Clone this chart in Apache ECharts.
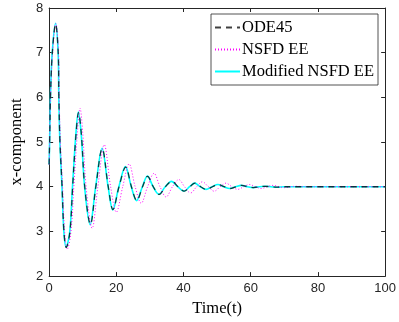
<!DOCTYPE html>
<html>
<head>
<meta charset="utf-8">
<script src="https://cdn.jsdelivr.net/npm/echarts@6/dist/echarts.min.js"></script>
<style>html,body{margin:0;padding:0;background:#fff}#c{width:399px;height:322px}</style>
</head>
<body>
<div id="c"></div>
<script>
// [t, x] samples
const ode45 = [[0,4.5],[0.2,5.2],[0.4,6.0],[0.95,7.0],[1.93,7.64],[2.7,7.0],[2.9,6.0],[3.2,5.05],[3.85,4.0],[4.4,3.0],[5.1,2.64],[6.2,3.0],[7.0,4.0],[8.0,5.17],[8.75,5.66],[9.6,5.17],[10.6,4.0],[12.3,3.16],[13.9,4.0],[15.8,4.85],[17.6,4.0],[19.0,3.49],[20.8,4.0],[22.8,4.44],[24.5,4.0],[26.1,3.69],[27.8,4.0],[29.3,4.23],[31.0,4.0],[32.8,3.83],[34.6,4.0],[36.5,4.12],[38.4,4.0],[40.2,3.90],[41.9,4.0],[43.4,4.08],[45.1,4.0],[46.8,3.94],[48.6,4.0],[50.3,4.05],[52.1,4.0],[53.8,3.96],[55.6,4.0],[57.3,4.03],[59.1,4.0],[60.8,3.98],[62.6,4.0],[64.3,4.01],[66,4.0],[67.8,3.99],[70,4.0],[100,4.0]];
const nsfdEE = [[0,4.5],[0.2,5.2],[0.4,6.0],[1.0,7.0],[2.0,7.66],[2.8,7.0],[3.0,6.0],[3.35,5.0],[4.0,4.0],[4.6,3.0],[5.4,2.6],[6.5,3.0],[7.35,4.0],[8.4,5.2],[9.2,5.76],[10.0,5.2],[11.0,4.0],[12.8,3.07],[14.5,4.0],[16.4,4.94],[18.3,4.0],[20.0,3.43],[21.9,4.0],[23.8,4.51],[25.6,4.0],[27.4,3.63],[29.3,4.0],[31.2,4.30],[33.0,4.0],[34.8,3.77],[36.7,4.0],[38.6,4.16],[40.3,4.0],[42.1,3.86],[43.9,4.0],[45.6,4.11],[47.4,4.0],[49.1,3.90],[50.9,4.0],[52.6,4.08],[54.4,4.0],[56.1,3.94],[57.9,4.0],[59.6,4.05],[61.4,4.0],[63.1,3.96],[64.9,4.0],[66.6,4.03],[68.4,4.0],[70.1,3.98],[72,4.0],[73.6,4.01],[76,4.0],[100,4.0]];
const modNSFD = [[0,4.5],[0.2,5.25],[0.4,6.05],[0.93,7.0],[1.9,7.66],[2.68,7.0],[2.88,6.0],[3.18,5.05],[3.83,4.0],[4.38,3.0],[5.05,2.65],[6.15,3.0],[6.95,4.0],[7.95,5.17],[8.7,5.67],[9.55,5.17],[10.55,4.0],[12.2,3.15],[13.85,4.0],[15.75,4.86],[17.55,4.0],[18.95,3.48],[20.75,4.0],[22.7,4.45],[24.45,4.0],[26.0,3.69],[27.75,4.0],[29.25,4.24],[30.95,4.0],[32.7,3.83],[34.55,4.0],[36.4,4.12],[38.3,4.0],[40.1,3.90],[41.8,4.0],[43.3,4.08],[45.0,4.0],[46.7,3.94],[48.5,4.0],[50.2,4.05],[52.0,4.0],[53.7,3.96],[55.5,4.0],[57.2,4.03],[59.0,4.0],[60.7,3.98],[62.5,4.0],[64.2,4.01],[66,4.0],[67.7,3.99],[70,4.0],[100,4.0]];
const seriesNames = ['ODE45','NSFD EE','Modified NSFD EE'];
const xTicks = {min:0, max:100, step:20};
const yTicks = {min:2, max:8, step:1};

const axisColor = '#262626';
const serif = '"Liberation Serif", "Times New Roman", serif';
const sans = '"Liberation Sans", Arial, sans-serif';
const chart = echarts.init(document.getElementById('c'), null, {renderer:'canvas'});
const baseAxis = {
  axisLine:{show:true, onZero:false, lineStyle:{color:axisColor, width:1}},
  axisTick:{show:true, inside:true, length:4, lineStyle:{color:axisColor}},
  splitLine:{show:false}
};
chart.setOption({
  animation:false,
  backgroundColor:'#fff',
  grid:{left:40, right:12, top:8, bottom:45},
  legend:{
    data:seriesNames, orient:'vertical', left:211, top:14,
    itemWidth:25, itemHeight:14, itemGap:5, padding:[5,4,5,3],
    borderColor:'#262626', borderWidth:0.8, backgroundColor:'#fff',
    itemStyle:{opacity:0, borderWidth:0},
    textStyle:{fontFamily:serif, fontSize:16.5, color:'#000', padding:[0,0,0,-3]}
  },
  xAxis:[
    Object.assign({type:'value', min:xTicks.min, max:xTicks.max, interval:xTicks.step, position:'bottom',
      name:'Time(t)', nameLocation:'middle', nameGap:22,
      nameTextStyle:{fontFamily:serif, fontSize:16.5, color:'#000'},
      axisLabel:{fontFamily:sans, fontSize:13, color:axisColor, margin:6}}, baseAxis),
    Object.assign({type:'value', min:xTicks.min, max:xTicks.max, interval:xTicks.step, position:'top',
      axisLabel:{show:false}}, baseAxis)
  ],
  yAxis:[
    Object.assign({type:'value', min:yTicks.min, max:yTicks.max, interval:yTicks.step, position:'left',
      name:'x-component', nameLocation:'middle', nameGap:24,
      nameTextStyle:{fontFamily:serif, fontSize:16.5, color:'#000'},
      axisLabel:{fontFamily:sans, fontSize:13, color:axisColor, margin:6}}, baseAxis),
    Object.assign({type:'value', min:yTicks.min, max:yTicks.max, interval:yTicks.step, position:'right',
      axisLabel:{show:false}}, baseAxis)
  ],
  series:[
    {name:seriesNames[2], type:'line', data:modNSFD, showSymbol:false, symbol:'none', smooth:0.35, z:2,
      lineStyle:{color:'#00ffff', width:1.6}, itemStyle:{color:'#00ffff'}},
    {name:seriesNames[1], type:'line', data:nsfdEE, showSymbol:false, symbol:'none', smooth:0.35, z:3,
      lineStyle:{color:'#ff00ff', width:1, type:[1,2]}, itemStyle:{color:'#ff00ff'}},
    {name:seriesNames[0], type:'line', data:ode45, showSymbol:false, symbol:'none', smooth:0.35, z:4,
      lineStyle:{color:'#000', width:1.3, type:[6,5], opacity:0.75}, itemStyle:{color:'#000'}}
  ]
});
</script>
</body>
</html>
